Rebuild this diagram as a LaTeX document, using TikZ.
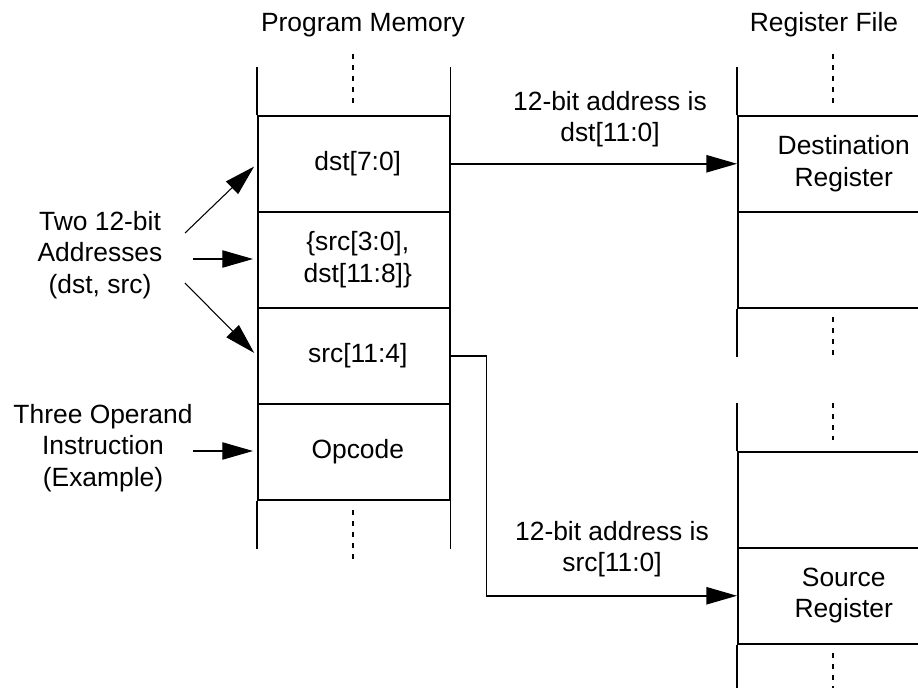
\documentclass[tikz,border=0pt]{standalone}
\usepackage{fontspec}
\setmainfont{Liberation Sans}
\usetikzlibrary{arrows.meta}
\begin{document}
\begin{tikzpicture}[x=0.75pt,y=-0.75pt,
  every node/.style={font=\fontsize{19.8}{23.5}\selectfont, align=center, inner sep=0pt},
  wall/.style={line width=1.15pt},
  dotline/.style={line width=1.15pt, dash pattern=on 3.75pt off 4.5pt},
  memcell/.style={draw, line width=1.15pt, minimum width=144pt, minimum height=72pt, anchor=north west},
  regcell/.style={draw, line width=1.15pt, minimum width=159pt, minimum height=72pt, anchor=north west},
  bigarrow/.style={line width=1.15pt, -{Triangle[length=23pt,width=13pt]}},
  thinarrow/.style={line width=0.8pt, -{Triangle[length=23pt,width=13pt]}, shorten >=3pt}
]
\clip (0,0) rectangle (918,688);

% titles
\node (pmtitle) at (363,25) {Program Memory};
\node (rftitle) at (824,25) {Register File};

% program memory cells
\node[memcell] (mDst) at (257,115) {\hspace*{6pt}dst[7:0]};
\node[memcell] (mMid) at (257,211) {\hspace*{6pt}\{src[3:0],\\\hspace*{6pt}dst[11:8]\}};
\node[memcell] (mSrc) at (257,307) {\hspace*{6pt}src[11:4]};
\node[memcell] (mOp)  at (257,403) {\hspace*{6pt}Opcode};

% open ends of program memory
\draw[wall] (mDst.north west) -- ++(0,-48);
\draw[wall] (mDst.north east) -- ++(0,-48);
\draw[wall] (mOp.south west) -- ++(0,48);
\draw[wall] (mOp.south east) -- ++(0,48);
\draw[dotline] (353,54) -- (353,103);
\draw[dotline] (353,510) -- (353,559);

% register file, upper part
\node[regcell] (rDst) at (737,115) {Destination\\Register};
\node[regcell] (rEmptyA) at (737,211) {};
\draw[wall] (rDst.north west) -- ++(0,-48);
\draw[wall] (rEmptyA.south west) -- ++(0,48);
\draw[dotline] (833,54) -- (833,103);
\draw[dotline] (833,317) -- (833,355);

% register file, lower part
\node[regcell] (rEmptyB) at (737,451) {};
\node[regcell] (rSrc) at (737,547) {Source\\Register};
\draw[wall] (rEmptyB.north west) -- ++(0,-48);
\draw[wall] (rSrc.south west) -- ++(0,48);
\draw[dotline] (833,403) -- (833,440);
\draw[dotline] (833,653) -- (833,688);

% address paths
\draw[bigarrow] (mDst.east) -- (rDst.west);
\node (dstlbl) at (610,119) {12-bit address is\\dst[11:0]};
\draw[bigarrow] (mSrc.east) -- ++(36,0) |- (rSrc.west);
\node (srclbl) at (612,549) {12-bit address is\\src[11:0]};

% left side annotations
\node (addr) at (100,255) {Two 12-bit\\Addresses\\(dst, src)};
\node (instr) at (103,448) {Three Operand\\Instruction\\(Example)};
\coordinate (aTop) at (185,233);
\coordinate (aMid) at (193,259);
\coordinate (aBot) at (185,283);
\coordinate (aOp) at (193,451);
\draw[thinarrow] (aTop) -- (mDst.west);
\draw[thinarrow] (aMid) -- (aMid -| mMid.west);
\draw[thinarrow] (aBot) -- (mSrc.west);
\draw[thinarrow] (aOp) -- (aOp -| mOp.west);
\end{tikzpicture}
\end{document}
